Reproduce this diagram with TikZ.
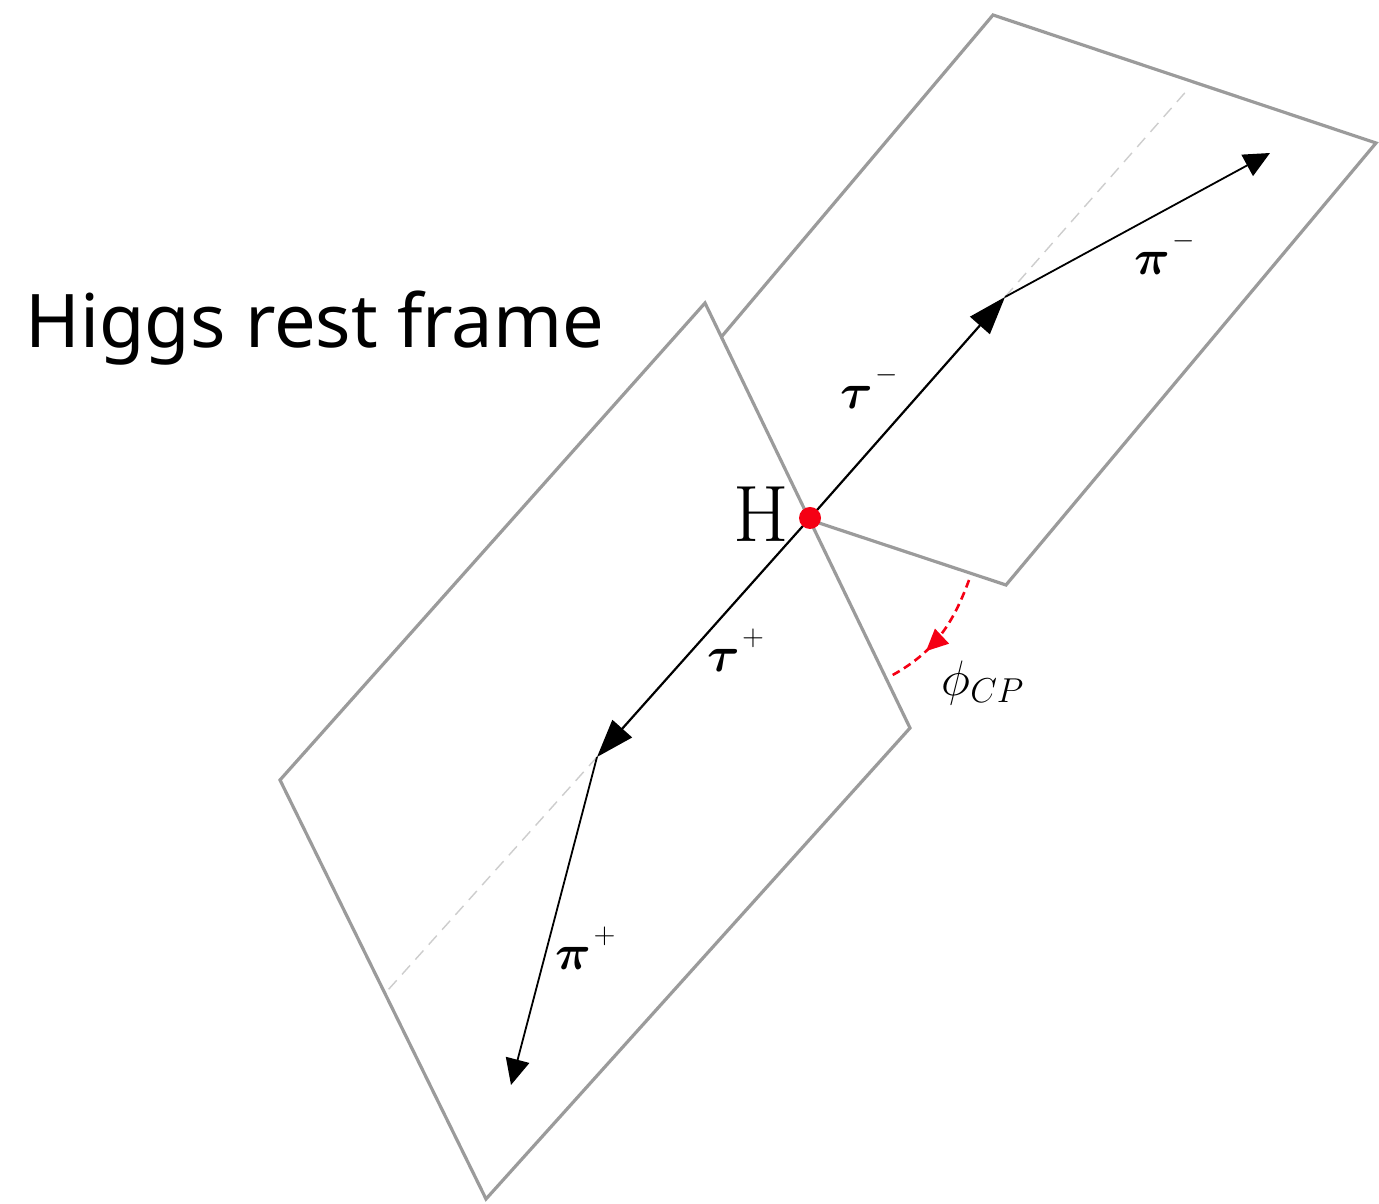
\documentclass[tikz,border=0pt]{standalone}
\usepackage{amsmath}
\usepackage{fontspec}
\newfontfamily\framefont{Noto Sans}
\usetikzlibrary{arrows.meta, decorations.markings}
\definecolor{planeGray}{RGB}{155,155,155}
\definecolor{dashGray}{RGB}{205,205,205}
\definecolor{vertexRed}{RGB}{245,0,20}
\newcommand{\highsup}[1]{\raisebox{4pt}{$\scriptscriptstyle #1$}}

\begin{document}
\begin{tikzpicture}[x=0.5pt,y=0.5pt,
  plane/.style={draw=planeGray,line width=1.6pt,line join=miter},
  tauarrow/.style={line width=1.1pt,-{Triangle[length=19pt,width=13pt]}},
  piarrow/.style={line width=0.9pt,-{Triangle[length=13pt,width=12pt]}},
  extension/.style={draw=dashGray,line width=0.7pt,dash pattern=on 6pt off 4pt},
  phiarc/.style={vertexRed,line width=1.3pt,dash pattern=on 4pt off 2.5pt,
    postaction={decorate},
    decoration={markings,mark=at position 0.65 with {\arrow{Triangle[length=11pt,width=10pt]}}}},
  lbl/.style={font=\fontsize{30}{34}\selectfont}]
  \useasboundingbox (0,0) rectangle (1379,1203);
  % tau- decay plane (behind)
  \draw[plane] (620,746) -- (1006,618) -- (1376,1060) -- (993,1188) -- cycle;
  % tau+ decay plane (in front)
  \draw[plane,fill=white] (705,900) -- (910,475) -- (486,4) -- (280,423) -- cycle;
  % vertices
  \coordinate (H) at (810,685);
  \coordinate (tauM) at (1005,906);
  \coordinate (piM) at (1270,1050);
  \coordinate (extM) at (1190,1116);
  \coordinate (tauP) at (597,446);
  \coordinate (piP) at (511,118);
  \coordinate (extP) at (388,213);
  % tau directions continued
  \draw[extension] (tauM) -- (extM);
  \draw[extension] (tauP) -- (extP);
  % taus and pions
  \draw[tauarrow] (H) -- (tauM);
  \draw[tauarrow] (H) -- (tauP);
  \draw[piarrow] (tauM) -- (piM);
  \draw[piarrow] (tauP) -- (piP);
  \node[circle,fill=vertexRed,inner sep=0pt,minimum size=11pt] (Hdot) at (H) {};
  % angle between the planes
  \coordinate (phiA) at (969,623);
  \coordinate (phiB) at (889,526);
  \draw[phiarc] (phiA) to[out=-110,in=28] (phiB);
  % labels
  \node[font=\fontsize{40}{46}\selectfont] (Hlabel) at (761,689) {H};
  \node[lbl] (tauMlabel) at (870,816) {$\boldsymbol{\tau}^{\mkern1mu\highsup{-}}$};
  \node[lbl] (piMlabel) at (1165,950) {$\boldsymbol{\pi}^{\mkern1mu\highsup{-}}$};
  \node[lbl] (tauPlabel) at (736,553) {$\boldsymbol{\tau}^{\mkern1mu\highsup{+}}$};
  \node[lbl] (piPlabel) at (586,255) {$\boldsymbol{\pi}^{\mkern1mu\highsup{+}}$};
  \node[font=\fontsize{27}{32}\selectfont] (philabel) at (983,520) {$\phi_{CP}$};
  \node[anchor=base west,inner sep=0pt,font=\framefont\fontsize{37}{44}\selectfont] (frame) at (25,855) {Higgs rest frame};
\end{tikzpicture}
\end{document}
